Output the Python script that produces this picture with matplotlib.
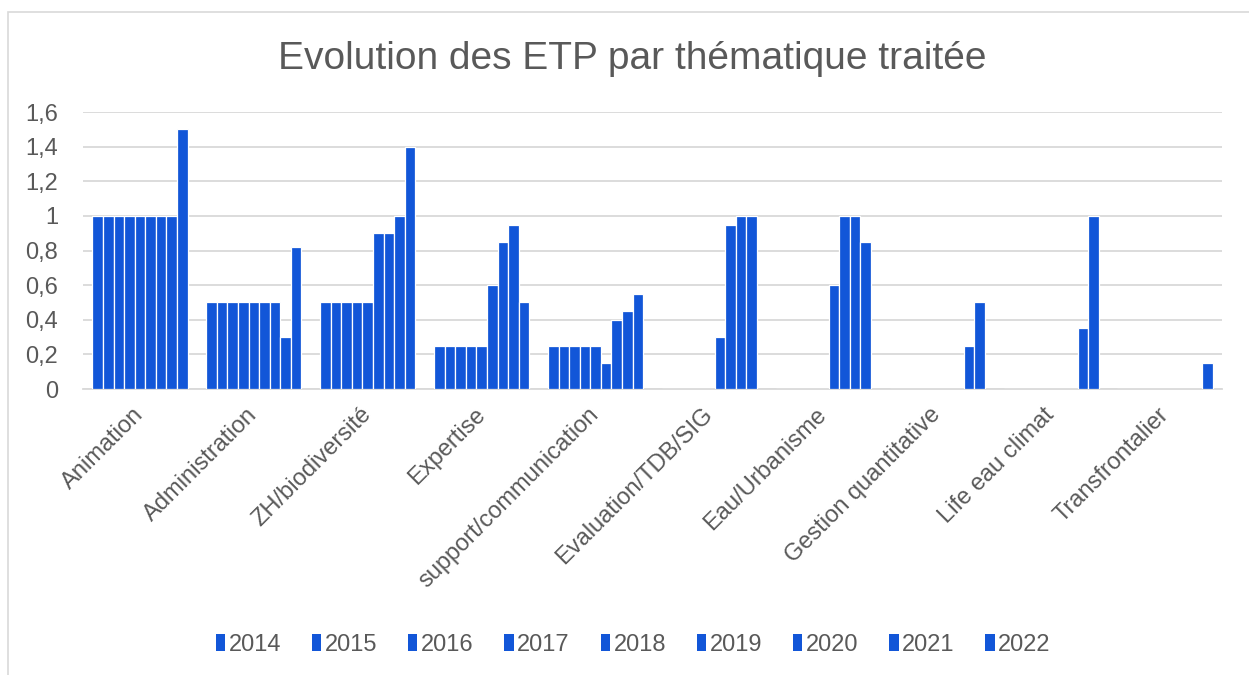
import matplotlib
matplotlib.use("Agg")
import matplotlib.pyplot as plt
import numpy as np
from matplotlib.patches import Patch, Rectangle

# data
categories = ["Animation", "Administration", "ZH/biodiversité", "Expertise",
              "support/communication", "Evaluation/TDB/SIG", "Eau/Urbanisme",
              "Gestion quantitative", "Life eau climat", "Transfrontalier"]
years = ["2014", "2015", "2016", "2017", "2018", "2019", "2020", "2021", "2022"]

etp_2014 = [1, 0.5, 0.5, 0.25, 0.25, 0, 0, 0, 0, 0]
etp_2015 = [1, 0.5, 0.5, 0.25, 0.25, 0, 0, 0, 0, 0]
etp_2016 = [1, 0.5, 0.5, 0.25, 0.25, 0, 0, 0, 0, 0]
etp_2017 = [1, 0.5, 0.5, 0.25, 0.25, 0, 0, 0, 0, 0]
etp_2018 = [1, 0.5, 0.5, 0.25, 0.25, 0, 0, 0, 0, 0]
etp_2019 = [1, 0.5, 0.9, 0.6, 0.15, 0.3, 0.6, 0, 0, 0]
etp_2020 = [1, 0.5, 0.9, 0.85, 0.4, 0.95, 1, 0, 0, 0]
etp_2021 = [1, 0.3, 1, 0.95, 0.45, 1, 1, 0.25, 0.35, 0]
etp_2022 = [1.5, 0.82, 1.4, 0.5, 0.55, 1, 0.85, 0.5, 1, 0.15]

series = [etp_2014, etp_2015, etp_2016, etp_2017, etp_2018,
          etp_2019, etp_2020, etp_2021, etp_2022]

plt.rcParams['font.family'] = ['Liberation Sans', 'DejaVu Sans']
txt = '#595959'
blue = '#1256D8'

fig = plt.figure(figsize=(12.49, 6.75), dpi=100)
ax = fig.add_axes([83/1249, 1 - 389/675, (1222 - 83)/1249, (389 - 112)/675])

# light frame around the chart area like in the spreadsheet export
fig.patches.append(Rectangle((8/1249, -0.1), 1.2, 1 - 12/675 + 0.1,
                             transform=fig.transFigure, fill=False,
                             edgecolor='#D9D9D9', linewidth=1.2))

x = np.arange(len(categories))
group = 0.835
w = group / len(series)
for i, vals in enumerate(series):
    ax.bar(x - group/2 + w*(i + 0.5), vals, width=w, color=blue,
           edgecolor='white', linewidth=0.9, label=years[i], zorder=3)

ax.set_xlim(-0.5, len(categories) - 0.5)
ax.set_ylim(0, 1.6)
ticks = np.arange(0, 1.61, 0.2)
ax.set_yticks(ticks)
ax.set_yticklabels(['0'] + [('%.1f' % t).replace('.', ',') if abs(t - 1) > 1e-9 else '1'
                            for t in ticks[1:]])
ax.grid(axis='y', color='#D9D9D9', linewidth=1.3, zorder=0)
ax.set_axisbelow(True)
for s in ['top', 'right', 'left']:
    ax.spines[s].set_visible(False)
ax.spines['bottom'].set_color('#D9D9D9')
ax.spines['bottom'].set_linewidth(1.3)

ax.set_xticks(x)
ax.set_xticklabels(categories, rotation=45, ha='right', rotation_mode='anchor',
                   va='center')
ax.tick_params(axis='both', length=0, labelsize=17, labelcolor=txt)
ax.tick_params(axis='y', pad=18)
ax.tick_params(axis='x', pad=16)

fig.text(0.506, 1 - 59/675, "Evolution des ETP par thématique traitée",
         ha='center', va='center', fontsize=28, color=txt)

handles = [Patch(facecolor=blue, label=y) for y in years]
leg = fig.legend(handles=handles, loc='center', bbox_to_anchor=(0.507, 1 - 645/675),
                 ncol=9, frameon=False, fontsize=17, handlelength=0.4,
                 handleheight=0.7, handletextpad=0.15, columnspacing=1.3)
for t in leg.get_texts():
    t.set_color(txt)

fig.savefig("out.png", dpi=100)
